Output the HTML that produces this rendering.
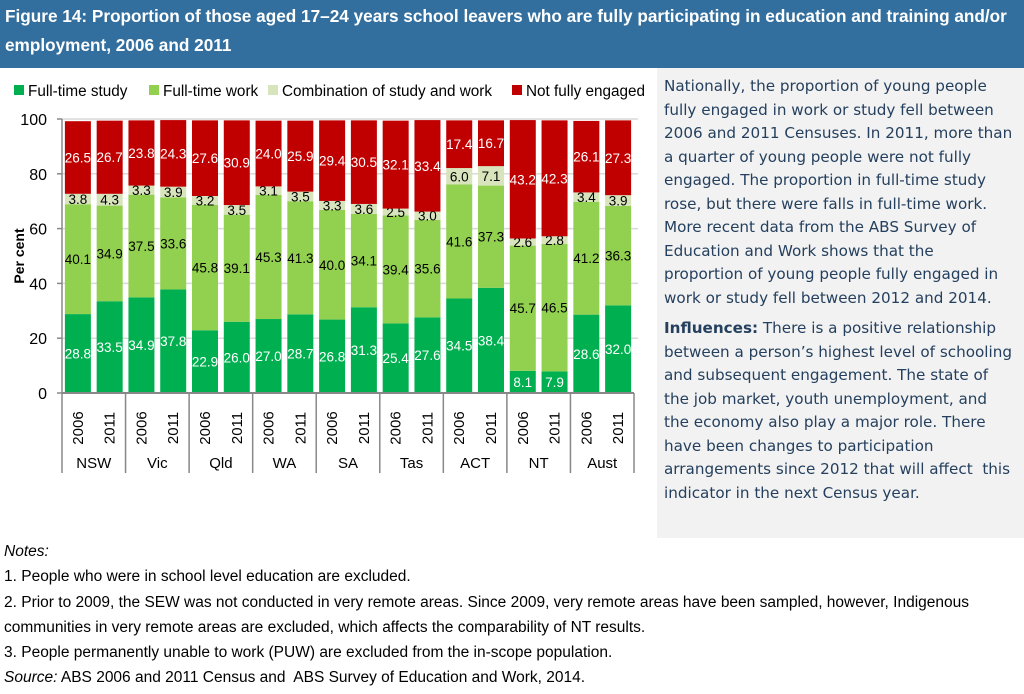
<!DOCTYPE html>
<html><head><meta charset="utf-8">
<style>
body{margin:0;width:1024px;height:694px;overflow:hidden;background:#fff;font-family:"Liberation Sans",sans-serif;position:relative}
#hdr{position:absolute;left:0;top:0;width:1024px;height:68px;background:#336f9e;color:#fff;font-weight:bold;font-size:17.2px;line-height:29px;padding:2px 0 0 5px;box-sizing:border-box;white-space:nowrap}
#side{position:absolute;left:657px;top:68px;width:367px;height:470px;background:#f2f2f2;color:#25405e;font-family:"DejaVu Sans",sans-serif;font-size:15.2px;line-height:23.5px;padding:7px 0 0 7px;box-sizing:border-box;white-space:nowrap}
#side p{margin:0 0 7px 0}
#notes{position:absolute;left:4px;top:539px;font-size:15.5px;line-height:25.3px;color:#000;white-space:nowrap}
</style></head><body>
<div id="hdr">Figure 14: Proportion of those aged 17–24 years school leavers who are fully participating in education and training and/or<br>employment, 2006 and 2011</div>
<svg id="chart" width="657" height="480" style="position:absolute;left:0;top:68px" viewBox="0 68 657 480"></svg>
<div id="side">
<p>Nationally, the proportion of young people<br>fully engaged in work or study fell between<br>2006 and 2011 Censuses. In 2011, more than<br>a quarter of young people were not fully<br>engaged. The proportion in full-time study<br>rose, but there were falls in full-time work.<br>More recent data from the ABS Survey of<br>Education and Work shows that the<br>proportion of young people fully engaged in<br>work or study fell between 2012 and 2014.</p>
<p><b>Influences:</b> There is a positive relationship<br>between a person’s highest level of schooling<br>and subsequent engagement. The state of<br>the job market, youth unemployment, and<br>the economy also play a major role. There<br>have been changes to participation<br>arrangements since 2012 that will affect&nbsp; this<br>indicator in the next Census year.</p>
</div>
<div id="notes">
<i>Notes:</i><br>
1. People who were in school level education are excluded.<br>
2. Prior to 2009, the SEW was not conducted in very remote areas. Since 2009, very remote areas have been sampled, however, Indigenous<br>communities in very remote areas are excluded, which affects the comparability of NT results.<br>
3. People permanently unable to work (PUW) are excluded from the in-scope population.<br>
<i>Source:</i> ABS 2006 and 2011 Census and&nbsp; ABS Survey of Education and Work, 2014.
</div>
<script>
const groups=["NSW","Vic","Qld","WA","SA","Tas","ACT","NT","Aust"];
const years=["2006","2011"];
const seriesNames=["Full-time study","Full-time work","Combination of study and work","Not fully engaged"];
const study=[28.8,33.5,34.9,37.8,22.9,26.0,27.0,28.7,26.8,31.3,25.4,27.6,34.5,38.4,8.1,7.9,28.6,32.0];
const work=[40.1,34.9,37.5,33.6,45.8,39.1,45.3,41.3,40.0,34.1,39.4,35.6,41.6,37.3,45.7,46.5,41.2,36.3];
const combo=[3.8,4.3,3.3,3.9,3.2,3.5,3.1,3.5,3.3,3.6,2.5,3.0,6.0,7.1,2.6,2.8,3.4,3.9];
const notEng=[26.5,26.7,23.8,24.3,27.6,30.9,24.0,25.9,29.4,30.5,32.1,33.4,17.4,16.7,43.2,42.3,26.1,27.3];
const yTicks=[0,20,40,60,80,100];

const NS="http://www.w3.org/2000/svg";
const svg=document.getElementById('chart');
const colors=["#00b050","#92d050","#d8e4bc","#c00000"];
const txtCol=["#fff","#000","#000","#fff"];
const X0=62,X1=634,Y0=393,Y1=119;
const n=study.length,slot=(X1-X0)/n,bw=26;
const y=v=>Y0-(v/100)*(Y0-Y1);
const xs=i=>X0+slot*i+slot/2;
function mk(t,a,p){const e=document.createElementNS(NS,t);for(const k in a)e.setAttribute(k,a[k]);(p||svg).appendChild(e);return e;}
yTicks.forEach(v=>{
 if(v>0){const g=mk('line',{x1:X0,x2:X1+4,y1:y(v),y2:y(v),stroke:'#d9d9d9','stroke-width':1.5});
 
 }
 const t=mk('text',{x:47,y:y(v)+6,'text-anchor':'end','font-size':16,fill:'#000'});t.textContent=v;
 
 
 mk('line',{x1:X0-5,x2:X0,y1:y(v),y2:y(v),stroke:'#888','stroke-width':1.5});
});
const yl=mk('text',{x:0,y:0,'font-size':14,'font-weight':'bold','text-anchor':'middle',transform:`translate(24,${(Y0+Y1)/2}) rotate(-90)`});
yl.textContent="Per cent";


const series=[study,work,combo,notEng];
for(let i=0;i<n;i++){
 let base=0;
 series.forEach((s,k)=>{
  const v=s[i];
  const r=mk('rect',{x:xs(i)-bw/2,y:y(base+v),width:bw,height:y(base)-y(base+v),fill:colors[k]});
  
  
  const t=mk('text',{x:xs(i),y:(y(base)+y(base+v))/2+5,'text-anchor':'middle','font-size':13.5,fill:txtCol[k]});
  t.textContent=v.toFixed(1);
  
  
  base+=v;
 });
 const yt=mk('text',{x:0,y:0,'font-size':15,'text-anchor':'middle',transform:`translate(${xs(i)+5},428) rotate(-90)`});
 yt.textContent=years[i%2];
 
 
}
mk('line',{x1:X0,x2:X0,y1:Y1,y2:Y0,stroke:'#888','stroke-width':1.5});
mk('line',{x1:X0,x2:X1,y1:Y0,y2:Y0,stroke:'#888','stroke-width':2});
for(let g=0;g<=groups.length;g++){
 const xx=X0+slot*2*g;
 mk('line',{x1:xx,x2:xx,y1:Y0,y2:473,stroke:'#888','stroke-width':1.5});
 if(g<groups.length){const t=mk('text',{x:xx+slot,y:468,'text-anchor':'middle','font-size':15});t.textContent=groups[g];
 
 }
}
const lx=[14,149,268,512];
seriesNames.forEach((s,k)=>{
 mk('rect',{x:lx[k],y:85,width:10,height:10,fill:colors[k]});
 const t=mk('text',{x:lx[k]+14,y:96,'font-size':15.3});t.textContent=s;
 
 
});
</script>
</body></html>
